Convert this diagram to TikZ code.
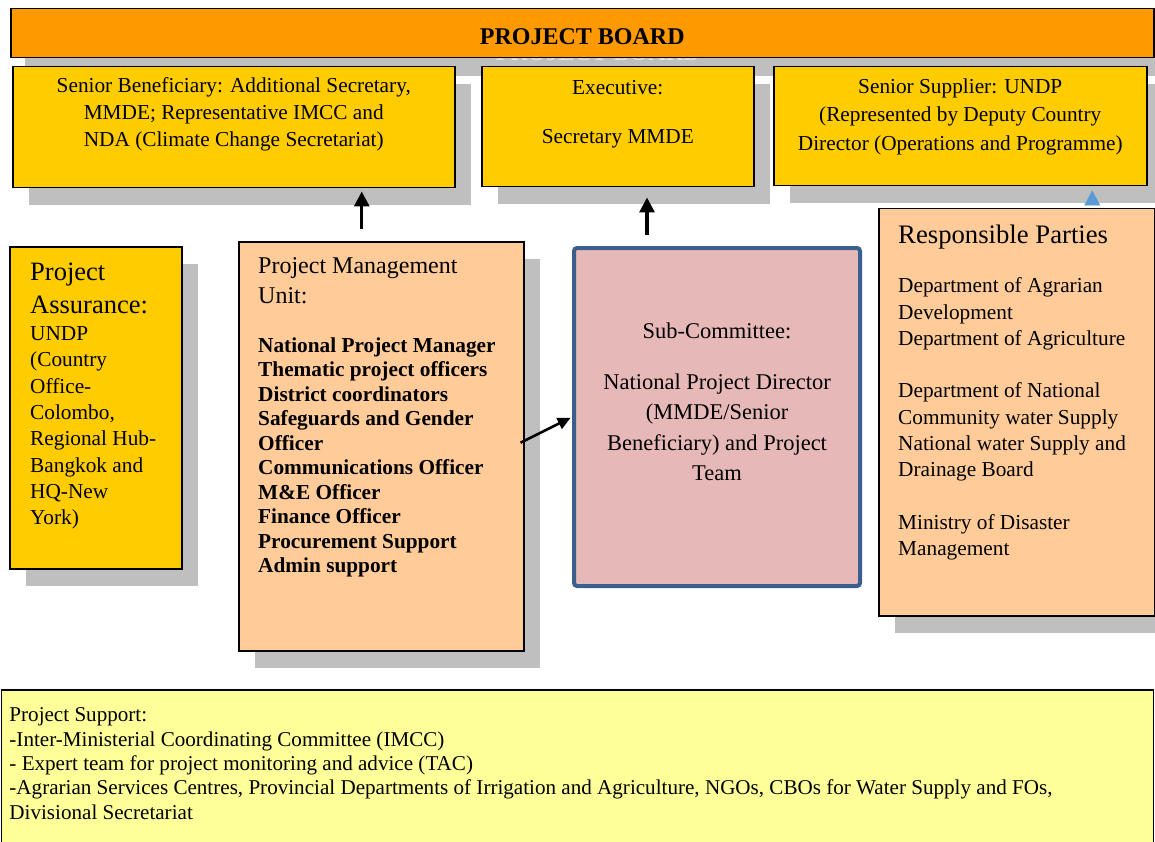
\documentclass[tikz,border=0pt]{standalone}
\usepackage{fontspec}
\setmainfont{Liberation Serif}
\usetikzlibrary{positioning,shadows,arrows.meta}
\definecolor{boardorange}{HTML}{FF9900}
\definecolor{boxgold}{HTML}{FFCC00}
\definecolor{peach}{HTML}{FFCC99}
\definecolor{rose}{HTML}{E6B9B8}
\definecolor{navyline}{HTML}{3A5F8F}
\definecolor{paleyellow}{HTML}{FFFF99}
\definecolor{shadowgray}{HTML}{BFBFBF}
\definecolor{tipblue}{HTML}{5B9BD5}
\begin{document}
\begin{tikzpicture}[x=1pt,y=-1pt,
  box/.style={draw=black,line width=1.5pt,inner sep=0pt,anchor=north west,
    drop shadow={shadow xshift=16pt,shadow yshift=-17pt,fill=shadowgray,opacity=1}},
  flat/.style={draw=black,line width=1.5pt,inner sep=0pt,anchor=north west},
  body/.style={inner sep=0pt,font=\fontsize{21.3}{26.3}\selectfont},
  head/.style={inner sep=0pt,align=left,font=\fontsize{26.5}{33}\selectfont},
  arr/.style={line width=3.2pt,-{Triangle[width=15pt,length=15pt]}}]
\clip (0,0) rectangle (1155,842);
% board
\fill[shadowgray] (25,27) rectangle (1168,76);
\begin{scope}
\clip (10,57) rectangle (1153,66);
\node[text=white!55!shadowgray,font=\bfseries\fontsize{24}{28}\selectfont] (ghost) at (598,53) {PROJECT BOARD};
\end{scope}
\node[flat,fill=boardorange,minimum width=1143pt,minimum height=49pt] (board) at (10,8) {};
\node[font=\bfseries\fontsize{24}{28}\selectfont,inner sep=0pt] (boardtxt) at ([yshift=-3pt]board.center) {PROJECT BOARD};
\node[box,fill=boxgold,minimum width=442pt,minimum height=121pt] (senben) at (12,66) {};
\node[body,align=center,font=\fontsize{21.3}{27}\selectfont,below=11.5pt of senben.north] (senbentxt)
  {Senior Beneficiary: Additional Secretary,\\MMDE; Representative IMCC and\\NDA (Climate Change Secretariat)};
\node[box,fill=boxgold,minimum width=272pt,minimum height=120pt] (exec) at (481,66) {};
\node[body,align=center,font=\fontsize{21.3}{24.5}\selectfont,below=14.5pt of exec.north] (exectxt)
  {Executive:\\[24.5pt]Secretary MMDE};
\node[box,fill=boxgold,minimum width=373pt,minimum height=119pt] (supplier) at (773,66) {};
\node[body,align=center,font=\fontsize{21.3}{28.5}\selectfont,below=12.5pt of supplier.north] (suppliertxt)
  {Senior Supplier: UNDP\\(Represented by Deputy Country\\Director (Operations and Programme)};
% assurance
\node[box,fill=boxgold,minimum width=172pt,minimum height=322pt] (assure) at (9,246) {};
\node[head,below right=16.5pt and 21pt of assure.north west] (assurehead) {Project\\Assurance:};
\node[body,align=left,below right=80.5pt and 21pt of assure.north west] (assuretxt)
  {UNDP\\(Country\\Office-\\Colombo,\\Regional Hub-\\Bangkok and\\HQ-New\\York)};
% management unit
\node[box,fill=peach,minimum width=285pt,minimum height=409pt] (pmu) at (238,241) {};
\node[head,font=\fontsize{24}{30}\selectfont,below right=16.5pt and 20pt of pmu.north west] (pmuhead)
  {Project Management\\Unit:};
\node[body,align=left,font=\bfseries\fontsize{21.3}{24.5}\selectfont,below right=96.5pt and 20pt of pmu.north west] (pmustaff)
  {National Project Manager\\Thematic project officers\\District coordinators\\Safeguards and Gender\\Officer\\Communications Officer\\M\&E Officer\\Finance Officer\\Procurement Support\\Admin support};
% sub-committee
\node[draw=navyline,line width=4pt,rounded corners=3pt,fill=rose,inner sep=0pt,anchor=north west,
  minimum width=286pt,minimum height=338pt] (subcom) at (572,246) {};
\node[body,align=center,font=\fontsize{22.5}{30.5}\selectfont,below=77pt of subcom.north] (subcomtxt)
  {Sub-Committee:\\[20pt]National Project Director\\(MMDE/Senior\\Beneficiary) and Project\\Team};
% responsible parties
\node[box,fill=peach,minimum width=276pt,minimum height=407pt] (parties) at (878,208) {};
\node[head,font=\fontsize{26.7}{33}\selectfont,below right=16.5pt and 20pt of parties.north west] (partieshead)
  {Responsible Parties};
\node[body,align=left,below right=69.5pt and 20pt of parties.north west] (partiestxt)
  {Department of Agrarian\\Development\\Department of Agriculture\\[26.3pt]Department of National\\Community water Supply\\National water Supply and\\Drainage Board\\[26.3pt]Ministry of Disaster\\Management};
% support
\node[flat,fill=paleyellow,minimum width=1152pt,minimum height=200pt] (support) at (0.75,689) {};
\node[body,align=left,font=\fontsize{21.1}{24.4}\selectfont,below right=18.5pt and 8.5pt of support.north west] (supporttxt)
  {Project Support:\\-Inter-Ministerial Coordinating Committee (IMCC)\\- Expert team for project monitoring and advice (TAC)\\-Agrarian Services Centres, Provincial Departments of Irrigation and Agriculture, NGOs, CBOs for Water Supply and FOs,\\Divisional Secretariat};
% arrows
\draw[arr,shorten <=12pt,shorten >=3pt] ([xshift=-19.5pt]pmu.north) -- ([xshift=-19.5pt]pmu.north |- senben.south);
\draw[arr,shorten <=11pt,shorten >=10pt] ([xshift=-70pt]subcom.north) -- ([xshift=-70pt]subcom.north |- exec.south);
\draw[line width=2.5pt,-{Triangle[width=12pt,length=13pt]},shorten >=1.5pt] ([xshift=-4pt,yshift=3.5pt]pmu.east) -- (subcom.west);
\draw[tipblue,line width=0.2pt,-{Triangle[width=16pt,length=15pt]},shorten <=6pt,shorten >=4pt]
  ([xshift=75.5pt]parties.north) -- ([xshift=75.5pt]parties.north |- supplier.south);
\end{tikzpicture}
\end{document}
